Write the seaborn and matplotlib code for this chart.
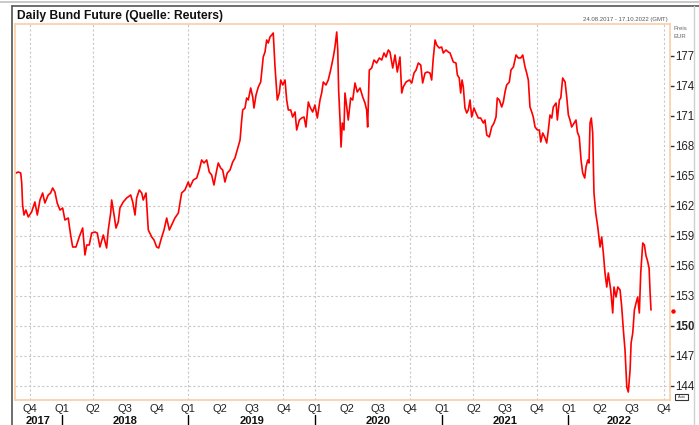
import matplotlib
matplotlib.use("Agg")
import matplotlib.pyplot as plt
import matplotlib.transforms as mtransforms
from matplotlib.lines import Line2D
from matplotlib.patches import Rectangle
import pandas as pd
import seaborn as sns

# price series (x in decimal years)
t = [2017.640, 2017.658, 2017.677, 2017.685, 2017.692, 2017.703, 2017.718, 2017.737, 2017.763, 2017.789,
     2017.808, 2017.829, 2017.850, 2017.868, 2017.894, 2017.913, 2017.929, 2017.947, 2017.965, 2017.987,
     2018.008, 2018.026, 2018.052, 2018.071, 2018.087, 2018.113, 2018.139, 2018.166, 2018.184, 2018.198,
     2018.218, 2018.237, 2018.263, 2018.281, 2018.302, 2018.329, 2018.355, 2018.368, 2018.387, 2018.395,
     2018.415, 2018.429, 2018.447, 2018.460, 2018.486, 2018.513, 2018.545, 2018.561, 2018.579, 2018.592,
     2018.613, 2018.632, 2018.644, 2018.666, 2018.684, 2018.711, 2018.729, 2018.750, 2018.766, 2018.790,
     2018.808, 2018.829, 2018.850, 2018.868, 2018.894, 2018.921, 2018.934, 2018.947, 2018.973, 2018.999,
     2019.013, 2019.039, 2019.066, 2019.086, 2019.105, 2019.123, 2019.145, 2019.165, 2019.184, 2019.202,
     2019.224, 2019.236, 2019.255, 2019.271, 2019.289, 2019.307, 2019.329, 2019.350, 2019.368, 2019.386,
     2019.408, 2019.421, 2019.429, 2019.447, 2019.460, 2019.473, 2019.492, 2019.508, 2019.518, 2019.534,
     2019.552, 2019.571, 2019.591, 2019.605, 2019.618, 2019.631, 2019.644, 2019.658, 2019.670, 2019.684,
     2019.692, 2019.702, 2019.718, 2019.729, 2019.745, 2019.763, 2019.776, 2019.789, 2019.808, 2019.823,
     2019.842, 2019.855, 2019.876, 2019.894, 2019.913, 2019.928, 2019.947, 2019.960, 2019.981, 2019.999,
     2020.018, 2020.039, 2020.052, 2020.065, 2020.086, 2020.104, 2020.123, 2020.144, 2020.157, 2020.171,
     2020.179, 2020.186, 2020.197, 2020.205, 2020.215, 2020.228, 2020.236, 2020.250, 2020.262, 2020.281,
     2020.297, 2020.315, 2020.333, 2020.355, 2020.376, 2020.394, 2020.407, 2020.415, 2020.428, 2020.447,
     2020.465, 2020.486, 2020.507, 2020.526, 2020.544, 2020.560, 2020.578, 2020.591, 2020.613, 2020.631,
     2020.649, 2020.670, 2020.684, 2020.696, 2020.718, 2020.744, 2020.763, 2020.781, 2020.797, 2020.815,
     2020.834, 2020.849, 2020.868, 2020.886, 2020.907, 2020.920, 2020.933, 2020.947, 2020.960, 2020.980,
     2020.999, 2021.012, 2021.033, 2021.051, 2021.065, 2021.091, 2021.112, 2021.123, 2021.138, 2021.149,
     2021.160, 2021.170, 2021.183, 2021.197, 2021.209, 2021.223, 2021.236, 2021.254, 2021.270, 2021.288,
     2021.307, 2021.328, 2021.341, 2021.355, 2021.375, 2021.394, 2021.412, 2021.428, 2021.438, 2021.454,
     2021.473, 2021.486, 2021.499, 2021.512, 2021.533, 2021.546, 2021.565, 2021.586, 2021.604, 2021.623,
     2021.639, 2021.657, 2021.670, 2021.683, 2021.696, 2021.710, 2021.722, 2021.736, 2021.754, 2021.770,
     2021.781, 2021.797, 2021.815, 2021.828, 2021.841, 2021.854, 2021.868, 2021.880, 2021.902, 2021.912,
     2021.928, 2021.939, 2021.954, 2021.973, 2021.986, 2021.999, 2022.012, 2022.025, 2022.044, 2022.059,
     2022.070, 2022.085, 2022.099, 2022.112, 2022.128, 2022.138, 2022.152, 2022.162, 2022.170, 2022.180,
     2022.191, 2022.201, 2022.215, 2022.231, 2022.249, 2022.262, 2022.275, 2022.288, 2022.302, 2022.314,
     2022.333, 2022.349, 2022.359, 2022.375, 2022.389, 2022.407, 2022.420, 2022.433, 2022.446, 2022.460,
     2022.472, 2022.486, 2022.494, 2022.507, 2022.520, 2022.533, 2022.546, 2022.559, 2022.570, 2022.586,
     2022.599, 2022.612, 2022.622, 2022.636, 2022.644, 2022.651]
price = [165.3, 165.4, 165.3, 164.3, 162.1, 161.1, 161.6, 160.9, 161.4, 162.4,
         161.1, 162.6, 163.3, 162.3, 163.1, 163.3, 163.8, 163.4, 162.3, 161.6,
         161.8, 160.6, 160.8, 159.1, 157.9, 157.9, 158.9, 159.8, 157.1, 158.1,
         158.1, 159.3, 159.4, 159.3, 157.9, 159.1, 157.8, 159.6, 161.3, 162.6,
         161.0, 159.8, 160.4, 161.8, 162.4, 162.8, 163.1, 162.4, 161.1, 162.8,
         163.6, 163.3, 162.6, 163.3, 159.6, 158.9, 158.6, 157.9, 157.8, 158.9,
         159.6, 160.8, 159.6, 160.1, 160.8, 161.3, 162.3, 163.3, 163.6, 164.4,
         163.9, 164.6, 164.8, 165.6, 166.6, 166.3, 166.6, 165.4, 165.1, 164.1,
         165.6, 166.3, 165.8, 165.6, 164.4, 165.3, 165.6, 166.4, 166.8, 167.6,
         168.6, 170.6, 171.6, 171.8, 172.8, 172.6, 173.8, 172.9, 171.8, 173.1,
         173.9, 174.4, 176.9, 177.4, 178.6, 178.3, 178.9, 179.1, 179.3, 175.9,
         174.4, 172.6, 173.3, 174.6, 174.1, 174.6, 172.6, 171.6, 171.6, 170.9,
         171.4, 169.6, 170.6, 170.8, 170.9, 169.9, 172.4, 171.9, 171.4, 172.1,
         170.8, 172.6, 173.3, 174.4, 174.1, 174.6, 175.6, 176.9, 177.9, 179.4,
         177.6, 173.6, 170.6, 167.9, 170.3, 169.6, 173.3, 171.9, 170.6, 172.8,
         172.6, 174.3, 173.4, 173.8, 172.9, 172.3, 171.6, 169.9, 175.6, 175.8,
         176.6, 176.3, 176.8, 176.6, 177.3, 176.9, 177.6, 177.4, 175.8, 177.1,
         175.4, 176.9, 173.3, 173.9, 174.4, 174.6, 174.3, 175.3, 175.6, 176.3,
         176.1, 174.3, 175.3, 175.4, 175.3, 174.6, 176.8, 178.6, 178.1, 177.8,
         177.9, 177.3, 177.6, 177.4, 177.3, 176.4, 176.3, 175.1, 174.8, 173.3,
         174.6, 173.9, 171.8, 171.3, 171.6, 172.6, 170.9, 171.8, 171.3, 170.8,
         170.8, 170.3, 170.6, 169.1, 168.9, 169.9, 170.3, 170.9, 172.8, 172.6,
         171.9, 172.4, 173.4, 174.1, 174.4, 175.6, 175.9, 177.1, 176.8, 176.8,
         177.1, 175.9, 175.3, 174.6, 171.9, 171.4, 170.9, 169.9, 169.6, 169.6,
         168.4, 169.3, 168.8, 168.3, 169.6, 171.1, 170.8, 171.9, 172.3, 170.6,
         172.6, 172.8, 174.8, 174.4, 172.9, 171.1, 170.6, 169.9, 170.3, 170.6,
         169.4, 168.9, 166.6, 165.3, 164.8, 165.9, 166.6, 166.3, 170.3, 170.8,
         169.3, 163.3, 161.3, 159.9, 157.9, 158.9, 157.3, 155.3, 153.9, 155.3,
         153.6, 151.3, 153.9, 152.9, 153.9, 153.6, 151.9, 149.6, 147.6, 143.9,
         143.4, 145.6, 148.3, 149.3, 151.6, 152.3, 152.9, 151.3, 155.3, 158.3,
         158.1, 157.0, 156.6, 155.8, 153.3, 151.6]

quarter_labels = ["Q4", "Q1", "Q2", "Q3", "Q4", "Q1", "Q2", "Q3", "Q4", "Q1", "Q2",
                  "Q3", "Q4", "Q1", "Q2", "Q3", "Q4", "Q1", "Q2", "Q3", "Q4"]
quarter_pos = [2017.75 + 0.25 * i for i in range(len(quarter_labels))]
year_labels = ["2017", "2018", "2019", "2020", "2021", "2022"]
year_pos = [2017.816, 2018.5, 2019.5, 2020.5, 2021.5, 2022.40]
year_starts = [2018.0, 2019.0, 2020.0, 2021.0, 2022.0]
vgrid = [2017.75, 2018.25, 2019.0, 2019.75, 2020.0, 2020.75, 2021.25, 2021.75, 2022.75]
hgrid = [144, 147, 150, 153, 156, 159, 162]
yticks = [144, 147, 150, 153, 156, 159, 162, 165, 168, 171, 174, 177]
last_price = 151.5

df = pd.DataFrame({"t": t, "price": price})

sns.set_style("white")
plt.rcParams["font.family"] = ["Liberation Sans", "DejaVu Sans"]

fig = plt.figure(figsize=(6.99, 4.25), dpi=100)
ax = fig.add_axes([15 / 699, 1 - 400 / 425, 655 / 699, 376 / 425])

for x in vgrid:
    ax.axvline(x, color="#c8c8c8", lw=0.8, ls=(0, (2, 2)), zorder=0)
for y in hgrid:
    ax.axhline(y, color="#c8c8c8", lw=0.8, ls=(0, (2, 2)), zorder=0)

sns.lineplot(data=df, x="t", y="price", color="#ff0000", linewidth=1.2,
             estimator=None, sort=False, ax=ax)

ax.set_xlim(2017.632, 2022.801)
ax.set_ylim(142.6, 180.2)
ax.set_xlabel("")
ax.set_ylabel("")

for s in ax.spines.values():
    s.set_color("#f9cfa5")
    s.set_linewidth(1.2)

ax.yaxis.tick_right()
ax.set_yticks(yticks)
ax.set_yticklabels([str(v) for v in yticks])
ax.tick_params(axis="y", length=3, width=1, color="#333333", pad=1,
               labelsize=8.3, labelcolor="#222222", right=True, left=False)
for lab in ax.get_yticklabels():
    if lab.get_text() == "150":
        lab.set_fontweight("bold")

ax.set_xticks(quarter_pos)
ax.set_xticklabels(quarter_labels)
ax.tick_params(axis="x", length=0, pad=3, labelsize=8, labelcolor="#222222")

trans = mtransforms.blended_transform_factory(ax.transData, ax.transAxes)
for x, lab in zip(year_pos, year_labels):
    ax.text(x, -0.042, lab, transform=trans, ha="center", va="top",
            fontsize=8, fontweight="bold", color="#111111")
for x in year_starts:
    ax.plot([x, x], [-0.040, -0.07], transform=trans, color="#000000",
            lw=1, clip_on=False)

# last price marker on the right edge
ytr = mtransforms.blended_transform_factory(ax.transAxes, ax.transData)
ax.plot([1.005], [last_price], marker="o", ms=2.2, color="#ff0000",
        transform=ytr, clip_on=False)

# frame and header
fig.add_artist(Line2D([0, 1], [1 - 1.5 / 425] * 2, color="#c0c0c0", lw=1.2))
fig.add_artist(Line2D([12 / 699, 1], [1 - 6 / 425] * 2, color="#555555", lw=1.2))
fig.add_artist(Line2D([12 / 699] * 2, [0, 1 - 6 / 425], color="#555555", lw=1.2))
fig.add_artist(Line2D([694 / 699] * 2, [0, 1 - 6 / 425], color="#d0d0d0", lw=1))

fig.text(17 / 699, 1 - 16 / 425, "Daily Bund Future (Quelle: Reuters)",
         fontsize=8.7, fontweight="bold", color="#111111", va="center")
fig.text(668 / 699, 1 - 19 / 425, "24.08.2017 - 17.10.2022 (GMT)",
         fontsize=4.3, color="#555555", ha="right", va="center")
fig.text(673 / 699, 1 - 28 / 425, "Preis", fontsize=4.3, color="#666666", va="center")
fig.text(673 / 699, 1 - 36 / 425, "EUR", fontsize=4.3, color="#666666", va="center")

fig.add_artist(Rectangle((675 / 699, 1 - 400 / 425), 13 / 699, 6 / 425,
                         transform=fig.transFigure, fill=False, ec="#333333", lw=0.8))
fig.text(681.5 / 699, 1 - 397 / 425, "Auto", fontsize=2.8, color="#333333",
         ha="center", va="center")

fig.savefig("out.png", dpi=100)
